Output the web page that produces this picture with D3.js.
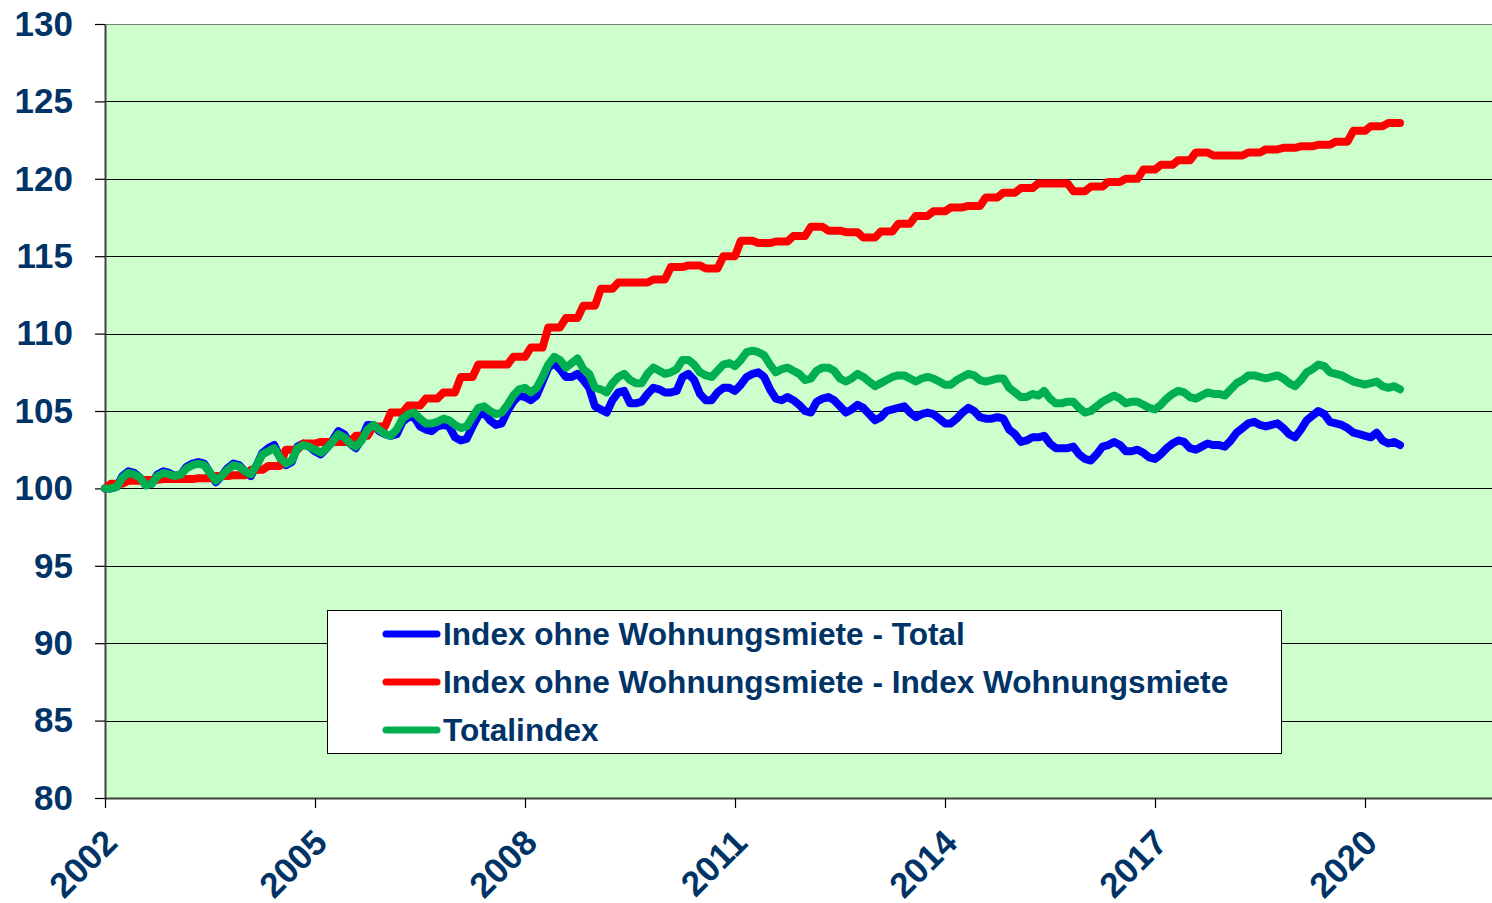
<!DOCTYPE html>
<html>
<head>
<meta charset="utf-8">
<script src="https://cdn.jsdelivr.net/npm/d3@7"></script>
<style>
  body { margin: 0; background: #fff; }
  svg { display: block; font-family: 'Liberation Sans', Arial, sans-serif; }
</style>
</head>
<body>
<svg id="chart" width="1492" height="903"></svg>
<script>
var startYear = 2002;
var yearTicks = [2002, 2005, 2008, 2011, 2014, 2017, 2020];
var valueTicks = [80, 85, 90, 95, 100, 105, 110, 115, 120, 125, 130];
var seriesNames = [
  'Index ohne Wohnungsmiete - Total',
  'Index ohne Wohnungsmiete - Index Wohnungsmiete',
  'Totalindex'
];

// monthly values, Jan 2002 - Jul 2020
var ohneMieteTotal = [
  100.0, 100.0, 100.1, 100.8, 101.1, 101.0, 100.7, 100.2, 100.3, 100.9, 101.1, 101.0,
  100.8, 100.9, 101.4, 101.6, 101.7, 101.6, 101.0, 100.4, 100.8, 101.3, 101.6, 101.5,
  101.1, 100.8, 101.5, 102.3, 102.6, 102.8, 102.0, 101.5, 101.7, 102.7, 102.9, 102.7,
  102.4, 102.2, 102.6, 103.1, 103.7, 103.5, 102.9, 102.6, 103.2, 104.1, 104.1, 103.7,
  103.5, 103.4, 103.5, 104.3, 104.6, 104.6, 104.0, 103.8, 103.7, 104.0, 104.1, 104.0,
  103.3, 103.1, 103.2, 104.0, 104.7, 104.9, 104.4, 104.1, 104.2, 105.0, 105.6, 106.0,
  105.9, 105.7, 106.0, 106.9, 107.8, 108.1, 107.7, 107.2, 107.2, 107.4, 107.0, 106.5,
  105.3, 105.1, 104.9, 105.7, 106.2, 106.3, 105.5, 105.5, 105.6, 106.1, 106.5, 106.4,
  106.2, 106.2, 106.3, 107.2, 107.4, 107.0, 106.1, 105.7, 105.7, 106.2, 106.5, 106.5,
  106.3, 106.7, 107.2, 107.4, 107.5, 107.2, 106.4, 105.8, 105.7, 105.9, 105.7, 105.4,
  105.0, 104.9, 105.6, 105.8, 105.9, 105.7, 105.3, 104.9, 105.1, 105.4, 105.2, 104.8,
  104.4, 104.6, 105.0, 105.1, 105.2, 105.3, 104.9, 104.6, 104.8, 104.9, 104.8, 104.5,
  104.2, 104.2, 104.5, 104.9, 105.2, 105.0, 104.6, 104.5, 104.5, 104.6, 104.5, 103.8,
  103.5, 103.0, 103.1, 103.3, 103.3, 103.4, 102.9, 102.6, 102.6, 102.6, 102.7, 102.2,
  101.9, 101.8, 102.2, 102.7, 102.8, 103.0, 102.8, 102.4, 102.4, 102.5, 102.3, 102.0,
  101.9, 102.2, 102.6, 102.9, 103.1, 103.0, 102.6, 102.5, 102.7, 102.9, 102.8, 102.8,
  102.7, 103.1, 103.6, 103.9, 104.2, 104.3, 104.1, 104.0, 104.1, 104.2, 103.9, 103.5,
  103.3, 103.8, 104.4, 104.7, 105.0, 104.8, 104.3, 104.2, 104.1, 103.9, 103.6, 103.5,
  103.4, 103.3, 103.6, 103.1, 102.9, 103.0, 102.8
];

var wohnungsmiete = [
  100.0, 100.3, 100.3, 100.3, 100.5, 100.5, 100.5, 100.55, 100.55, 100.55, 100.6, 100.6,
  100.6, 100.6, 100.6, 100.6, 100.65, 100.65, 100.65, 100.8, 100.8, 100.8, 100.85, 100.85,
  100.85, 101.2, 101.2, 101.2, 101.45, 101.45, 101.45, 102.5, 102.5, 102.5, 102.9, 102.9,
  102.9, 103.0, 103.0, 103.0, 103.0, 103.0, 103.0, 103.4, 103.4, 103.4, 104.0, 104.0,
  104.0, 104.9, 104.9, 104.9, 105.35, 105.35, 105.35, 105.8, 105.8, 105.8, 106.2, 106.2,
  106.2, 107.2, 107.2, 107.2, 108.0, 108.0, 108.0, 108.0, 108.0, 108.0, 108.5, 108.5,
  108.5, 109.1, 109.1, 109.1, 110.4, 110.4, 110.4, 111.0, 111.0, 111.0, 111.8, 111.8,
  111.8, 112.9, 112.9, 112.9, 113.3, 113.3, 113.3, 113.3, 113.3, 113.3, 113.5, 113.5,
  113.5, 114.3, 114.3, 114.3, 114.4, 114.4, 114.4, 114.2, 114.2, 114.2, 115.0, 115.0,
  115.0, 116.0, 116.0, 116.0, 115.85, 115.85, 115.85, 115.95, 115.95, 115.95, 116.3, 116.3,
  116.3, 116.9, 116.9, 116.9, 116.65, 116.65, 116.65, 116.55, 116.55, 116.55, 116.2, 116.2,
  116.2, 116.6, 116.6, 116.6, 117.1, 117.1, 117.1, 117.6, 117.6, 117.6, 117.9, 117.9,
  117.9, 118.15, 118.15, 118.15, 118.25, 118.25, 118.25, 118.8, 118.8, 118.8, 119.1, 119.1,
  119.1, 119.4, 119.4, 119.4, 119.7, 119.7, 119.7, 119.7, 119.7, 119.7, 119.2, 119.2,
  119.2, 119.5, 119.5, 119.5, 119.8, 119.8, 119.8, 120.0, 120.0, 120.0, 120.6, 120.6,
  120.6, 120.9, 120.9, 120.9, 121.2, 121.2, 121.2, 121.7, 121.7, 121.7, 121.5, 121.5,
  121.5, 121.5, 121.5, 121.5, 121.7, 121.7, 121.7, 121.9, 121.9, 121.9, 122.0, 122.0,
  122.0, 122.1, 122.1, 122.1, 122.2, 122.2, 122.2, 122.4, 122.4, 122.4, 123.1, 123.1,
  123.1, 123.4, 123.4, 123.4, 123.6, 123.6, 123.6
];

var totalIndex = [
  100.0, 100.0, 100.1, 100.7, 101.0, 100.9, 100.7, 100.2, 100.3, 100.8, 101.0, 100.9,
  100.8, 100.9, 101.3, 101.5, 101.6, 101.5, 101.0, 100.5, 100.8, 101.2, 101.5, 101.4,
  101.1, 100.9, 101.5, 102.2, 102.4, 102.6, 102.0, 101.6, 101.8, 102.6, 102.8, 102.7,
  102.5, 102.3, 102.6, 103.0, 103.5, 103.3, 102.9, 102.7, 103.1, 103.8, 104.1, 103.8,
  103.5, 103.4, 103.8, 104.5, 104.8, 104.9, 104.5, 104.2, 104.2, 104.3, 104.5, 104.4,
  104.1, 103.9, 104.0, 104.6, 105.2, 105.3, 105.0, 104.8, 104.9, 105.4, 106.0, 106.4,
  106.5, 106.2, 106.5, 107.2, 108.0, 108.5, 108.3, 107.8, 108.1, 108.4, 107.7, 107.4,
  106.5, 106.4, 106.2, 106.8, 107.2, 107.4, 107.0, 106.8, 106.8, 107.4, 107.8, 107.6,
  107.4, 107.5, 107.7, 108.3, 108.3, 108.0, 107.5, 107.3, 107.2, 107.6, 108.0, 108.1,
  107.9, 108.3, 108.8, 108.9, 108.8, 108.6, 108.0, 107.5, 107.7, 107.8, 107.6, 107.4,
  107.0, 107.1, 107.6, 107.8, 107.8, 107.6, 107.1, 106.9, 107.1, 107.4, 107.2, 106.9,
  106.6, 106.8, 107.0, 107.2, 107.3, 107.3, 107.1, 106.9, 107.1, 107.2, 107.1, 106.9,
  106.7, 106.7, 107.0, 107.2, 107.4, 107.3, 107.0, 106.9, 107.0, 107.1, 107.1, 106.5,
  106.2, 105.9, 105.9, 106.1, 106.0, 106.3, 105.8, 105.5, 105.5, 105.6, 105.6, 105.2,
  104.9, 105.0, 105.3, 105.6, 105.8, 106.0, 105.8, 105.5, 105.6, 105.6, 105.4, 105.2,
  105.1, 105.4, 105.8, 106.1, 106.3, 106.2, 105.9, 105.8, 106.0, 106.2, 106.1, 106.1,
  106.0, 106.4, 106.8, 107.0, 107.3, 107.3, 107.2, 107.1, 107.2, 107.3, 107.1, 106.8,
  106.6, 107.0, 107.5, 107.7, 108.0, 107.9, 107.5, 107.4, 107.3, 107.1, 106.9, 106.8,
  106.7, 106.8, 106.9, 106.6, 106.5, 106.6, 106.4
];

(function (d3) {
  'use strict';

  var svg = d3.select('#chart'),
    left = 105,
    right = 1492,
    top = 24,
    bottom = 798,
    textColor = '#003366';

  var x = d3.scaleLinear()
    .domain([startYear, startYear + (right - left) / 70])
    .range([left, right]);

  var y = d3.scaleLinear()
    .domain([80, 130])
    .range([bottom, top]);

  svg.append('rect')
    .attr('x', left)
    .attr('y', top)
    .attr('width', right - left)
    .attr('height', bottom - top)
    .attr('fill', '#ccffcc');

  svg.append('g')
    .selectAll('line')
    .data(valueTicks.slice(1))
    .enter().append('line')
    .attr('x1', left)
    .attr('x2', right)
    .attr('y1', function (d) { return Math.round(y(d)) + 0.5; })
    .attr('y2', function (d) { return Math.round(y(d)) + 0.5; })
    .attr('stroke', function (d) { return d === 130 ? '#808080' : '#000'; })
    .attr('stroke-width', 1.2);

  var yAxis = svg.append('g')
    .attr('transform', 'translate(' + left + ',0)')
    .call(d3.axisLeft(y).tickValues(valueTicks).tickSize(10).tickSizeOuter(0).tickPadding(22));

  var xAxis = svg.append('g')
    .attr('transform', 'translate(0,' + bottom + ')')
    .call(d3.axisBottom(x).tickValues(yearTicks).tickSize(10).tickSizeOuter(0).tickFormat(d3.format('d')));

  [yAxis, xAxis].forEach(function (g) {
    g.select('.domain').attr('stroke', '#404040').attr('stroke-width', 2);
    g.selectAll('.tick line').attr('stroke', '#000').attr('stroke-width', 1.2);
    g.selectAll('.tick text')
      .attr('fill', textColor)
      .attr('font-family', "'Liberation Sans', Arial, sans-serif")
      .attr('font-weight', 'bold')
      .attr('font-size', 35);
  });

  xAxis.selectAll('.tick text')
    .attr('x', 0)
    .attr('y', 0)
    .attr('dy', '0.35em')
    .attr('text-anchor', 'end')
    .attr('transform', 'translate(5,38) rotate(-45)');

  var series = [
    { name: seriesNames[0], color: '#0000ff', values: ohneMieteTotal },
    { name: seriesNames[1], color: '#ff0000', values: wohnungsmiete },
    { name: seriesNames[2], color: '#00b050', values: totalIndex }
  ];

  var line = d3.line()
    .x(function (d, i) { return x(startYear + i / 12); })
    .y(function (d) { return y(d); });

  svg.append('g')
    .selectAll('path')
    .data(series)
    .enter().append('path')
    .attr('fill', 'none')
    .attr('stroke', function (d) { return d.color; })
    .attr('stroke-width', 8)
    .attr('stroke-linejoin', 'round')
    .attr('stroke-linecap', 'round')
    .attr('d', function (d) { return line(d.values); });

  var legend = svg.append('g');

  legend.append('rect')
    .attr('x', 327.5)
    .attr('y', 610.5)
    .attr('width', 954)
    .attr('height', 143)
    .attr('fill', '#fff')
    .attr('stroke', '#000')
    .attr('stroke-width', 1);

  var item = legend.selectAll('g')
    .data(series)
    .enter().append('g')
    .attr('transform', function (d, i) { return 'translate(0,' + (634 + i * 48) + ')'; });

  item.append('line')
    .attr('x1', 386)
    .attr('x2', 437)
    .attr('stroke', function (d) { return d.color; })
    .attr('stroke-width', 7)
    .attr('stroke-linecap', 'round');

  item.append('text')
    .attr('x', 443)
    .attr('y', 11)
    .attr('fill', textColor)
    .attr('font-weight', 'bold')
    .attr('font-size', 31.6)
    .text(function (d) { return d.name; });
})(d3);
</script>
</body>
</html>
